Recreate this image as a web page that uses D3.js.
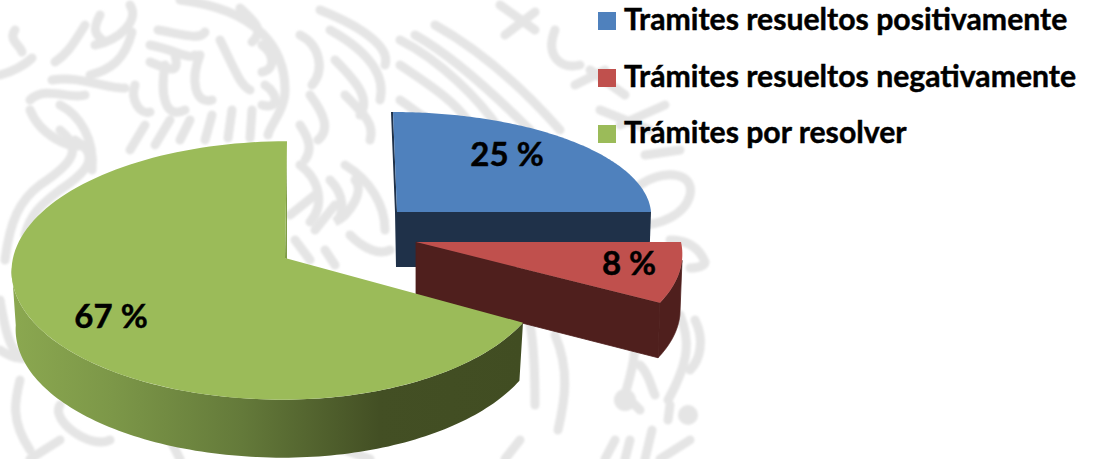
<!DOCTYPE html>
<html><head><meta charset="utf-8">
<script src="https://cdn.jsdelivr.net/npm/d3@7/dist/d3.min.js"></script>
<style>html,body{margin:0;padding:0;background:#fff}svg{display:block}text{font-family:Lato,"Open Sans",sans-serif;font-weight:700;fill:#000;stroke:#000;stroke-width:.45px}</style>
</head><body><svg id="c" width="1093" height="459"></svg>
<script>
const categories = ["Tramites resueltos positivamente","Trámites resueltos negativamente","Trámites por resolver"];
const values = [25, 8, 67];
const valueLabels = ["25 %","8 %","67 %"];
const topColors = ["#4f81bd","#c0504d","#9bbb59"];

// Layout of each exploded slice in its projected 3D view
const views = [
  {ax:397,ay:212,rxL:254,rxR:254,ry:102,k:0.02,skew:-4,depth:55,shrink:1},
  {ax:416,ay:242,rxL:265,rxR:265,ry:120,k:0.1,skew:0,depth:55,shrink:0.992},
  {ax:285,ay:258,rxL:272,rxR:260,ry:128,k:0.0965,skew:2,depth:58,shrink:0.985}
];
const labelPos = [[507,166],[629,275],[111,328]];
const legendY = [30,87,143];

const svg = d3.select("#c");
const defs = svg.append("defs");
defs.append("filter").attr("id","soft").append("feGaussianBlur").attr("stdDeviation",1);
const grad = defs.append("linearGradient").attr("id","gw").attr("gradientUnits","userSpaceOnUse")
  .attr("x1",11).attr("x2",523).attr("y1",0).attr("y2",0);
[[0,"#8ba850"],[0.2,"#7c9748"],[0.45,"#647a3a"],[0.72,"#434f24"],[1,"#414d22"]].forEach(s=>grad.append("stop").attr("offset",s[0]).attr("stop-color",s[1]));

const watermark = [
"M15,30C8,40 20,45 22,52","M0,75C12,72 25,65 32,58","M85,25C70,50 65,55 55,62","M100,15C92,30 95,35 105,42",
"M130,5C140,20 120,40 95,45","M90,75C110,70 125,60 132,32","M158,30C185,35 200,40 205,32","M150,45C175,50 190,60 195,55",
"M150,62C170,70 180,75 175,55","M52,80C80,75 110,90 125,88","M30,100C45,85 70,100 85,95","M30,110C40,135 70,150 85,145",
"M60,105C80,115 95,140 92,170","M135,85C130,100 140,115 150,112","M165,65C160,95 165,120 185,110","M200,55C190,80 195,105 212,100",
"M220,40C235,70 240,85 250,90","M130,150L145,125","M155,145L170,120","M180,140L190,120","M205,140L212,115","M228,138L232,110","M250,138L252,110",
"M180,0C260,10 285,50 285,90C285,110 270,125 268,135","M240,8C255,22 265,30 252,42","M262,45C275,55 275,70 262,72","M265,85C280,95 278,110 262,105",
"M320,10C370,30 390,50 385,65","M300,35C320,45 325,70 312,85","M330,30C375,55 385,80 380,100","M335,60C360,85 370,100 360,115","M310,95C325,115 330,130 318,140",
"M345,95C365,115 375,125 370,140","M300,125C310,140 312,150 305,160",
"M435,25C480,50 520,85 560,130","M415,35C460,60 510,110 530,130","M400,40C440,60 480,100 500,130","M400,65C430,85 460,105 470,125","M400,100C415,110 425,120 440,125",
"M500,5L535,30","M505,35L535,12","M555,30C545,55 560,70 580,65","M575,85L605,70","M590,70L625,95","M600,110L650,130","M620,125L665,105",
"M300,165C320,180 325,205 310,222","M330,180C345,195 345,215 335,222C350,215 365,190 355,180","M345,165C370,180 385,205 385,230","M290,215L315,195","M315,230L335,205","M350,235C365,250 380,255 390,250",
"M295,240L310,260","M325,250L335,265",
"M60,130C85,150 70,165 40,185C20,200 10,220 5,260","M75,140C100,155 90,170 60,190C40,205 30,215 25,235",
"M0,300C5,330 10,350 20,355","M0,350C15,360 25,360 35,355","M20,380C15,400 10,420 30,450","M60,405C50,420 90,450 110,440","M70,390C90,385 110,400 110,420",
"M530,325C535,350 535,390 535,405","M555,335C570,370 565,400 558,430","M632,320C640,350 630,375 625,395","M680,315C690,340 690,360 668,400","M695,320C705,340 700,360 690,370",
"M640,365C650,375 650,385 655,395","M670,405L668,420","M625,395L640,410","M605,459L615,440","M625,459L630,440","M645,459L652,430",
"M640,185C660,170 695,170 690,195C685,215 660,225 640,225","M670,240C690,240 700,250 705,262C705,265 700,268 690,268","M645,155L680,150",
"M520,440L505,459","M30,459L60,440","M160,420L180,459","M330,445L370,459","M690,440L660,459"
];
const wm = svg.append("g").attr("filter","url(#soft)").attr("fill","none").attr("stroke","#e5e5e5")
  .attr("stroke-width",9).attr("stroke-linecap","round");
wm.selectAll("path").data(watermark).join("path").attr("d",d=>d);
wm.selectAll("circle").data([[625,400,11],[688,415,10]]).join("circle")
  .attr("cx",d=>d[0]).attr("cy",d=>d[1]).attr("r",d=>d[2]).attr("fill","#e5e5e5").attr("stroke","none");

const pie = d3.pie().sort(null)(values);
const project = (v,t,dz=0)=>{
  const u=Math.sin(t), w=Math.cos(t), s=1/(1+v.k*w);
  const x=(u>0?v.rxR:v.rxL)*u*s+v.skew*w;
  return [v.ax+x*(dz?v.shrink:1), v.ay-v.ry*w*s+dz];
};
const line = d3.line();
const rim = (v,a,b,dz=0)=>d3.range(0,121).map(i=>project(v,a+(b-a)*i/120,dz));
const apex = (v,dz=0)=>[v.ax,v.ay+dz];
const poly=(pts,fill,edge)=>svg.append("path").attr("d",line(pts)+"Z").attr("fill",fill)
  .attr("stroke",edge||"none").attr("stroke-width",edge?0.8:0);

// blue
{const v=views[0],p=pie[0];
 const end=project(v,p.endAngle), start=project(v,p.startAngle);
 poly([[start[0]-2,start[1]],start,apex(v),apex(v,v.depth),[v.ax-1,v.ay+v.depth],[v.ax-2,v.ay]],"#1f3149");
 poly([apex(v),end,[end[0]-2,end[1]+v.depth],apex(v,v.depth)],"#1f3149");
 poly([apex(v),...rim(v,p.startAngle,p.endAngle)],topColors[0]);}
// red
{const v=views[1],p=pie[1];
 const a=p.startAngle+(p.endAngle-p.startAngle)*0.3;
 const end=project(v,p.endAngle), endLow=project(v,p.endAngle,v.depth);
 poly([...rim(v,a,p.endAngle),...rim(v,a,p.endAngle,v.depth).reverse()],"#4f1f1d","#4f1f1d");
 poly([apex(v),end,endLow,apex(v,v.depth-1)],"#4f1f1d","#4f1f1d");
 poly([apex(v),...rim(v,p.startAngle,p.endAngle)],topColors[1]);}
// green
{const v=views[2],p=pie[2];
 const sil=p.startAngle+(p.endAngle-p.startAngle)*0.61;
 const top=project(v,p.endAngle);
 poly([...rim(v,p.startAngle,sil),...rim(v,p.startAngle,sil,v.depth).reverse()],"url(#gw)");
 poly([top,[top[0],top[1]+8],[v.ax+2,v.ay+2],apex(v)],"#7f9c47");
 poly([apex(v),...rim(v,p.startAngle,p.endAngle)],topColors[2]);}

svg.selectAll("text.v").data(valueLabels).join("text").attr("class","v")
  .attr("x",(d,i)=>labelPos[i][0]).attr("y",(d,i)=>labelPos[i][1]).attr("text-anchor","middle")
  .attr("font-size",33).text(d=>d);
const lg=svg.selectAll("g.l").data(categories).join("g").attr("class","l");
lg.append("rect").attr("x",598).attr("y",(d,i)=>legendY[i]-18).attr("width",18).attr("height",18).attr("fill",(d,i)=>topColors[i]);
lg.append("text").attr("x",624).attr("y",(d,i)=>legendY[i]).attr("font-size",30.2).text(d=>d);
</script></body></html>
